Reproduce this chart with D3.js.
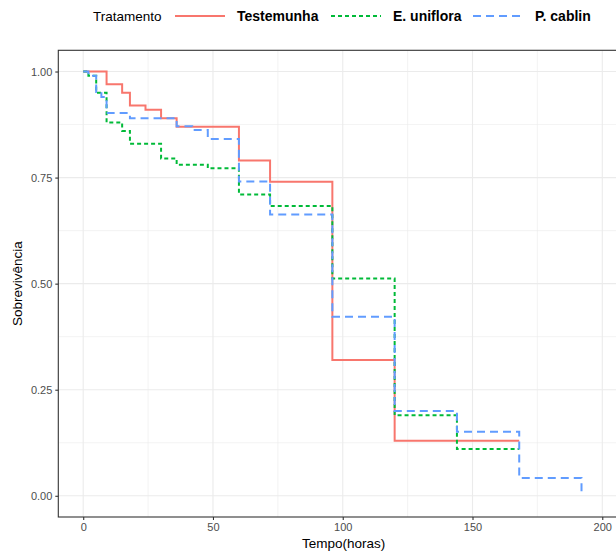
<!DOCTYPE html>
<html>
<head>
<meta charset="utf-8">
<script src="https://cdn.jsdelivr.net/npm/d3@7"></script>
<style>
  body { margin: 0; background: #fff; }
  svg text { font-family: "Liberation Sans", Arial, sans-serif; }
</style>
</head>
<body>
<div id="chart"></div>
<script>
// survival curves (time in hours, survival proportion)
const grupos = ["Testemunha", "E. uniflora", "P. cablin"];
const cores = ["#F8766D", "#00BA38", "#619CFF"];
const tracos = [null, "4,3", "8,5"];

const tempoTest = [0, 9, 15, 18, 24, 30, 36, 60, 72, 96, 120, 168];
const survTest  = [1.00, 0.97, 0.95, 0.92, 0.91, 0.89, 0.87, 0.79, 0.74, 0.32, 0.13, 0.13];

const tempoEuni = [0, 2, 5, 9, 15, 18, 30, 36, 48, 60, 72, 96, 120, 144, 168];
const survEuni  = [1.00, 0.99, 0.95, 0.88, 0.86, 0.83, 0.795, 0.78, 0.772, 0.71, 0.683, 0.512, 0.19, 0.11, 0.11];

const tempoPcab = [0, 2, 5, 7, 9, 18, 36, 42, 48, 60, 72, 96, 120, 144, 168, 192];
const survPcab  = [1.00, 0.99, 0.952, 0.94, 0.902, 0.89, 0.871, 0.862, 0.841, 0.741, 0.663, 0.422, 0.20, 0.151, 0.042, 0.00];

const xTicks = [0, 50, 100, 150, 200];
const xMinor = [25, 75, 125, 175];
const yTicks = [0, 0.25, 0.5, 0.75, 1];
const yMinor = [0.125, 0.375, 0.625, 0.875];

const series = [
  { nome: grupos[0], pts: tempoTest.map((t, i) => [t, survTest[i]]) },
  { nome: grupos[1], pts: tempoEuni.map((t, i) => [t, survEuni[i]]) },
  { nome: grupos[2], pts: tempoPcab.map((t, i) => [t, survPcab[i]]) }
];

const W = 616, H = 552;
const panel = { left: 58.3, top: 50.3, right: 629, bottom: 517 };

const svg = d3.select("#chart").append("svg")
    .attr("width", W)
    .attr("height", H);

const x = d3.scaleLinear()
    .domain([-9.6, 210.3])
    .range([panel.left, panel.right]);

const y = d3.scaleLinear()
    .domain([-0.05, 1.05])
    .range([panel.bottom, panel.top]);

const clip = svg.append("clipPath").attr("id", "clip")
    .append("rect")
    .attr("x", panel.left).attr("y", panel.top)
    .attr("width", panel.right - panel.left)
    .attr("height", panel.bottom - panel.top);

const grid = svg.append("g").attr("clip-path", "url(#clip)");

grid.selectAll(".gxm").data(xMinor).enter().append("line")
    .attr("x1", d => x(d)).attr("x2", d => x(d))
    .attr("y1", panel.top).attr("y2", panel.bottom)
    .attr("stroke", "#EBEBEB").attr("stroke-width", 0.6);
grid.selectAll(".gym").data(yMinor).enter().append("line")
    .attr("y1", d => y(d)).attr("y2", d => y(d))
    .attr("x1", panel.left).attr("x2", panel.right)
    .attr("stroke", "#EBEBEB").attr("stroke-width", 0.6);
grid.selectAll(".gx").data(xTicks).enter().append("line")
    .attr("x1", d => x(d)).attr("x2", d => x(d))
    .attr("y1", panel.top).attr("y2", panel.bottom)
    .attr("stroke", "#EBEBEB").attr("stroke-width", 1.1);
grid.selectAll(".gy").data(yTicks).enter().append("line")
    .attr("y1", d => y(d)).attr("y2", d => y(d))
    .attr("x1", panel.left).attr("x2", panel.right)
    .attr("stroke", "#EBEBEB").attr("stroke-width", 1.1);

const linha = d3.line()
    .x(d => x(d[0]))
    .y(d => y(d[1]))
    .curve(d3.curveStepAfter);

grid.selectAll(".curva").data(series).enter().append("path")
    .attr("class", "curva")
    .attr("d", d => linha(d.pts))
    .attr("fill", "none")
    .attr("stroke", (d, i) => cores[i])
    .attr("stroke-width", 2)
    .attr("stroke-dasharray", (d, i) => tracos[i]);

// panel border
svg.append("rect")
    .attr("x", panel.left).attr("y", panel.top)
    .attr("width", panel.right - panel.left)
    .attr("height", panel.bottom - panel.top)
    .attr("fill", "none")
    .attr("stroke", "#333333")
    .attr("stroke-width", 1.1);

const eixoX = svg.append("g")
    .attr("transform", `translate(0,${panel.bottom})`)
    .call(d3.axisBottom(x).tickValues(xTicks).tickSize(3).tickPadding(3).tickFormat(d3.format("d")));
const eixoY = svg.append("g")
    .attr("transform", `translate(${panel.left},0)`)
    .call(d3.axisLeft(y).tickValues(yTicks).tickSize(3).tickPadding(3).tickFormat(d3.format(".2f")));

[eixoX, eixoY].forEach(g => {
  g.select(".domain").remove();
  g.selectAll(".tick line").attr("stroke", "#333333").attr("stroke-width", 1.1);
  g.selectAll(".tick text").attr("fill", "#4D4D4D").style("font-size", "11px");
});

svg.append("text")
    .attr("x", (panel.left + panel.right) / 2)
    .attr("y", 548)
    .attr("text-anchor", "middle")
    .style("font-size", "13.5px")
    .text("Tempo(horas)");

svg.append("text")
    .attr("transform", `translate(22,${(panel.top + panel.bottom) / 2}) rotate(-90)`)
    .attr("text-anchor", "middle")
    .style("font-size", "13.5px")
    .text("Sobrevivência");

// legend
const leg = svg.append("g");
leg.append("text")
    .attr("x", 93).attr("y", 21)
    .style("font-size", "13.5px")
    .text("Tratamento");

const legX = [175, 331, 473];
grupos.forEach((g, i) => {
  leg.append("line")
      .attr("x1", legX[i]).attr("x2", legX[i] + 50)
      .attr("y1", 16).attr("y2", 16)
      .attr("stroke", cores[i])
      .attr("stroke-width", 2)
      .attr("stroke-dasharray", tracos[i]);
  leg.append("text")
      .attr("x", legX[i] + 62).attr("y", 21)
      .style("font-size", "14px")
      .style("font-weight", "bold")
      .text(g);
});
</script>
</body>
</html>
